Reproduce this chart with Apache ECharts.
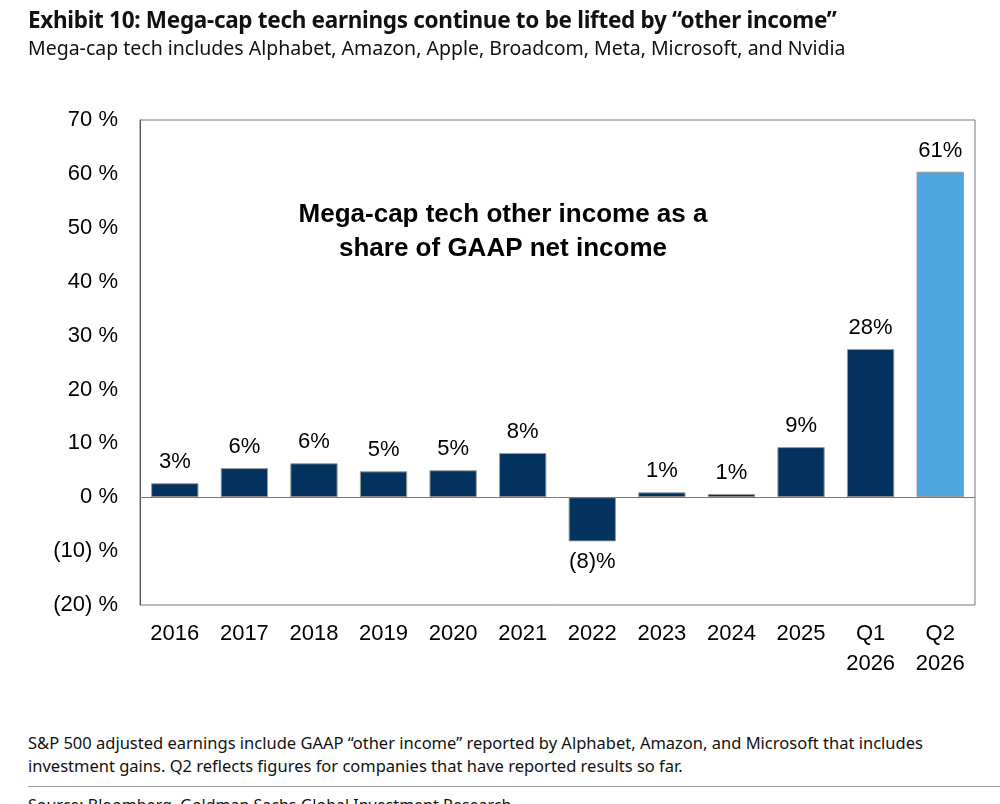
<!DOCTYPE html><html><head><meta charset="utf-8">
<script src="https://cdn.jsdelivr.net/npm/echarts@6/dist/echarts.min.js"></script>
<style>body{margin:0;background:#fff;font-family:"Noto Sans",sans-serif}
#t{position:absolute;left:28px;top:4px;font-size:22.5px;font-weight:bold;color:#111;letter-spacing:-0.3px}
#s{position:absolute;left:28px;top:34px;font-size:19.5px;color:#111}
#n{position:absolute;left:28px;top:731px;font-size:16.5px;color:#111;line-height:23px}
#hr{position:absolute;left:28px;right:0;top:786px;border-top:1px solid #999}
#src{position:absolute;left:28px;top:794px;font-size:16px;color:#111}
#c{position:absolute;left:0;top:0;width:1000px;height:720px}</style></head><body>
<div id="c"></div>
<div id="t">Exhibit 10: Mega-cap tech earnings continue to be lifted by “other income”</div>
<div id="s">Mega-cap tech includes Alphabet, Amazon, Apple, Broadcom, Meta, Microsoft, and Nvidia</div>
<div id="n">S&amp;P 500 adjusted earnings include GAAP “other income” reported by Alphabet, Amazon, and Microsoft that includes<br>investment gains. Q2 reflects figures for companies that have reported results so far.</div>
<div id="hr"></div><div id="src">Source: Bloomberg, Goldman Sachs Global Investment Research</div>
<script>
const categories=["2016","2017","2018","2019","2020","2021","2022","2023","2024","2025","Q1\n2026","Q2\n2026"];
const values=[2.6,5.4,6.3,4.8,5.0,8.2,-8.2,0.9,0.6,9.3,27.5,60.4];
const labels=["3%","6%","6%","5%","5%","8%","(8)%","1%","1%","9%","28%","61%"];
const yTicks={"-20":"(20) %","-10":"(10) %"};
const ch=echarts.init(document.getElementById('c'));
const F='Liberation Sans, Arial, sans-serif';
ch.setOption({animation:false,
grid:{left:140,right:25,top:120,bottom:115,show:true,borderColor:'#777',borderWidth:1},
graphic:[{type:'text',x:503,y:198,style:{text:'Mega-cap tech other income as a\nshare of GAAP net income',font:'bold 26px '+F,fill:'#000',align:'center',lineHeight:34}}],
xAxis:{type:'category',data:categories,axisLine:{onZero:false,show:false},axisTick:{show:false},
 axisLabel:{color:'#000',fontSize:22,fontFamily:F,lineHeight:30,margin:14}},
yAxis:{type:'value',min:-20,max:70,interval:10,splitLine:{show:false},axisLine:{show:true,lineColor:'#777'},axisTick:{show:false},
 axisLabel:{color:'#000',fontSize:22,fontFamily:F,margin:22,formatter:v=>yTicks[v]||(v+' %')}},
series:[{type:'bar',barWidth:'68%',
 data:values.map((v,i)=>({value:v,itemStyle:{color:i==11?'#4ea6e0':'#04325e',borderColor:'#999',borderWidth:1},
  label:{show:true,position:v<0?'bottom':'top',distance:10,formatter:labels[i],fontSize:22,fontFamily:F,color:'#000'}})),
 markLine:{silent:true,symbol:'none',label:{show:false},lineStyle:{color:'#777',type:'solid',width:1},data:[{yAxis:0}]}}]});
</script></body></html>
